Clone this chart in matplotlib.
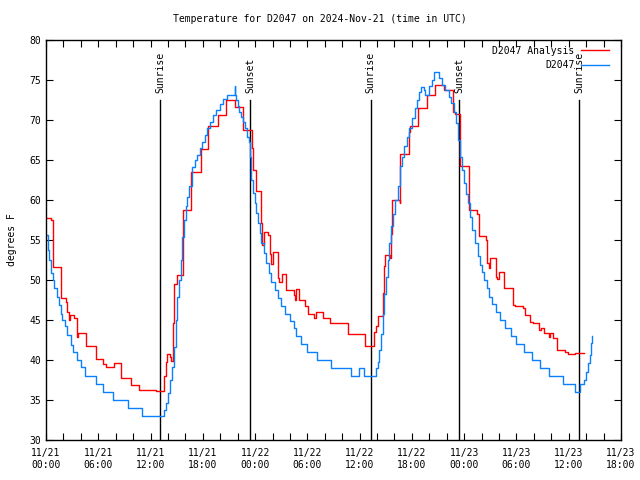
import datetime as dt
import matplotlib
matplotlib.use("Agg")
import matplotlib.pyplot as plt
from matplotlib.ticker import MultipleLocator, FuncFormatter

# hours since 2024-11-21 00:00 UTC
obs_hours = [0.08, 0.23, 0.34, 0.54, 0.80, 0.92, 1.23, 1.45, 1.68, 1.80, 2.14, 2.45, 2.83, 3.14,
             3.52, 3.98, 4.48, 5.70, 6.50, 7.73, 9.45, 10.98, 13.35, 13.54, 13.74, 14.0, 14.23,
             14.5, 14.69, 14.88, 15.07, 15.27, 15.46, 15.65, 15.84, 16.03, 16.22, 16.45, 16.76,
             17.07, 17.37, 17.64, 17.9, 18.2, 18.5, 18.8, 19.17, 19.55, 19.94, 20.3, 20.8, 21.66,
             21.72, 21.85, 22.04, 22.2, 22.4, 22.6, 22.8, 23.1, 23.27, 23.4, 23.57, 23.76, 23.95,
             24.14, 24.33, 24.53, 24.72, 25.02, 25.29, 25.56, 25.86, 26.25, 26.63, 27.0, 27.47,
             27.97, 28.47, 28.73, 29.3, 30.0, 31.14, 32.75, 35.05, 35.97, 36.5, 37.7, 37.88, 38.1,
             38.26, 38.45, 38.65, 38.84, 39.03, 39.22, 39.41, 39.64, 39.83, 40.1, 40.37, 40.67,
             40.86, 41.13, 41.44, 41.7, 42.0, 42.3, 42.6, 42.85, 43.08, 43.35, 43.54, 44.0, 44.3,
             44.5, 45.1, 45.45, 45.84, 46.22, 46.52, 46.8, 47.06, 47.29, 47.49, 47.75, 47.94,
             48.2, 48.44, 48.7, 48.9, 49.2, 49.55, 49.82, 50.05, 50.3, 50.6, 50.9, 51.2, 51.65,
             52.1, 52.7, 53.37, 53.95, 54.9, 55.8, 56.7, 57.77, 59.3, 60.7, 61.3, 61.8, 62.0,
             62.2, 62.4, 62.56, 62.7]
obs_temp = [55.6, 53.75, 52.5, 50.9, 50.0, 49.0, 47.9, 46.9, 45.8, 45.0, 44.2, 43.1, 41.9, 41.0,
            40.0, 39.1, 38.0, 37.0, 36.0, 35.0, 34.0, 33.0, 33.0, 33.75, 34.6, 35.9, 37.5,
            39.1, 41.6, 45.0, 47.9, 50.0, 52.5, 55.4, 57.5, 59.2, 60.4, 61.75, 64.1,
            65.0, 65.6, 66.5, 67.25, 68.1, 69.0, 69.75, 70.6, 71.25, 72.0, 72.6, 73.1, 74.2,
            73.1, 72.5, 71.7, 71.0, 70.4, 69.8, 69.0, 67.9, 67.3, 65.4, 62.5, 60.9, 59.6,
            58.4, 57.1, 55.9, 54.6, 53.4, 52.1, 50.9, 49.8, 48.75, 47.7, 46.75, 45.8,
            44.9, 44.0, 43.0, 42.0, 41.0, 40.0, 39.0, 38.0, 39.0, 38.0, 38.0, 39.0, 39.8,
            41.25, 43.3, 45.8, 48.3, 50.4, 52.5, 54.6, 56.7, 58.3, 60.0, 61.7, 64.2,
            65.4, 66.7, 67.9, 69.0, 70.2, 71.5, 72.5, 73.5, 74.1, 73.75, 73.1, 74.2, 75.0,
            76.0, 75.2, 74.4, 73.75, 72.9, 72.1, 71.0, 69.6, 67.5, 65.4, 63.75, 62.1,
            60.8, 59.6, 57.9, 56.25, 54.6, 53.0, 51.9, 51.0, 50.0, 49.0, 47.9, 47.0, 46.0,
            45.0, 44.0, 43.0, 42.0, 41.0, 40.0, 39.0, 38.0, 37.0, 36.0, 37.0, 37.5, 38.5,
            39.6, 40.6, 42.1, 43.0]

ana_hours = [0.08, 0.6, 0.78, 1.76, 2.3, 2.45, 2.64, 2.8, 3.2, 3.6, 3.7, 4.63, 5.7, 6.58, 6.85,
             7.8, 8.57, 9.72, 10.67, 12.66, 13.6, 13.74, 13.93, 14.2, 14.35, 14.6, 14.69, 15.0,
             15.7, 15.76, 16.6, 17.78, 18.65, 19.76, 20.65, 21.68, 22.65, 23.6, 23.8, 24.1,
             24.64, 24.8, 25.0, 25.48, 25.67, 25.8, 26.05, 26.63, 26.8, 27.1, 27.6, 28.5, 28.6,
             28.75, 29.0, 29.7, 30.07, 30.76, 31.0, 31.8, 32.6, 34.63, 36.63, 37.68, 37.88,
             38.12, 38.65, 38.76, 38.95, 39.5, 39.55, 39.7, 40.6, 40.63, 41.7, 41.8, 42.7,
             43.7, 44.7, 45.65, 46.69, 47.0, 47.5, 48.55, 49.5, 49.74, 50.5, 50.65, 50.8,
             50.95, 51.65, 51.8, 51.96, 52.6, 53.64, 53.8, 54.8, 55.0, 55.6, 55.86, 56.6,
             56.8, 57.2, 57.7, 57.9, 58.16, 58.66, 59.6, 59.9, 60.7, 61.7]
ana_temp = [57.8, 57.5, 51.6, 47.8, 47.3, 46.0, 45.0, 45.6, 45.2, 42.9, 43.4, 41.75, 40.1, 39.5, 39.1,
            39.6, 37.8, 36.9, 36.25, 36.1, 38.0, 39.7, 40.75, 40.4, 39.9, 44.6, 49.5, 50.6,
            55.0, 58.75, 63.5, 66.4, 69.2, 70.6, 72.5, 71.6, 68.8, 66.5, 63.75, 61.1,
            57.1, 54.4, 56.0, 55.6, 53.3, 52.0, 53.5, 50.2, 49.8, 50.75, 48.8, 48.1, 47.5,
            48.9, 47.5, 46.7, 45.8, 45.2, 46.0, 45.2, 44.6, 43.2, 41.75, 43.5, 44.3,
            45.5, 48.4, 51.7, 53.1, 52.8, 55.8, 60.0, 59.6, 65.8, 68.5, 69.3, 71.5,
            73.1, 74.4, 73.8, 71.0, 70.75, 64.2, 58.8, 58.3, 55.5, 55.0, 52.1, 51.5,
            52.7, 50.4, 50.1, 51.0, 49.0, 46.9, 46.7, 46.5, 45.6, 44.8, 44.6, 43.75,
            44.0, 43.4, 42.9, 43.4, 42.7, 41.3, 41.0, 40.75, 40.9, 40.9]

sun_events = [13.12, 23.45, 37.27, 47.44, 61.22]
sun_labels = ["Sunrise", "Sunset", "Sunrise", "Sunset", "Sunrise"]

start = dt.datetime(2024, 11, 21)
font = "DejaVu Sans Mono"
plt.rcParams["font.family"] = font
plt.rcParams["font.size"] = 7

fig = plt.figure(figsize=(6.4, 4.8), dpi=100)
ax = fig.add_axes([46 / 640, 40 / 480, 575 / 640, 400 / 480])

for h, lab in zip(sun_events, sun_labels):
    ax.axvline(h, ymin=0, ymax=0.85, color="black", lw=1.0)
    ax.text(h, 73.4, lab, rotation=90, ha="center", va="bottom", fontsize=7)

ax.plot(ana_hours, ana_temp, drawstyle="steps-post", color="#ff0000", lw=1.0, label="D2047 Analysis")
ax.plot(obs_hours, obs_temp, drawstyle="steps-post", color="#0a80ff", lw=1.0, label="D2047")

ax.set_xlim(0, 66)
ax.set_ylim(30, 80)
ax.xaxis.set_major_locator(MultipleLocator(6))
ax.xaxis.set_minor_locator(MultipleLocator(2))
ax.yaxis.set_major_locator(MultipleLocator(5))
ax.xaxis.set_major_formatter(FuncFormatter(
    lambda v, p: (start + dt.timedelta(hours=v)).strftime("%m/%d\n%H:%M")))
ax.tick_params(which="both", direction="in", top=True, right=True, length=5, width=0.8, labelsize=7)
ax.tick_params(axis="x", pad=6)
for s in ax.spines.values():
    s.set_linewidth(1.0)

ax.set_ylabel("degrees F", fontsize=7, labelpad=9)
fig.text(0.5, 1 - 19 / 480, "Temperature for D2047 on 2024-Nov-21 (time in UTC)",
         ha="center", va="center", fontsize=7)

ax.legend(loc="upper right", bbox_to_anchor=(0.99, 1.0), frameon=False, markerfirst=False,
          handlelength=2.9, handletextpad=0.7, labelspacing=0.45, borderaxespad=0.2, fontsize=7)

fig.savefig("out.png", dpi=100)
